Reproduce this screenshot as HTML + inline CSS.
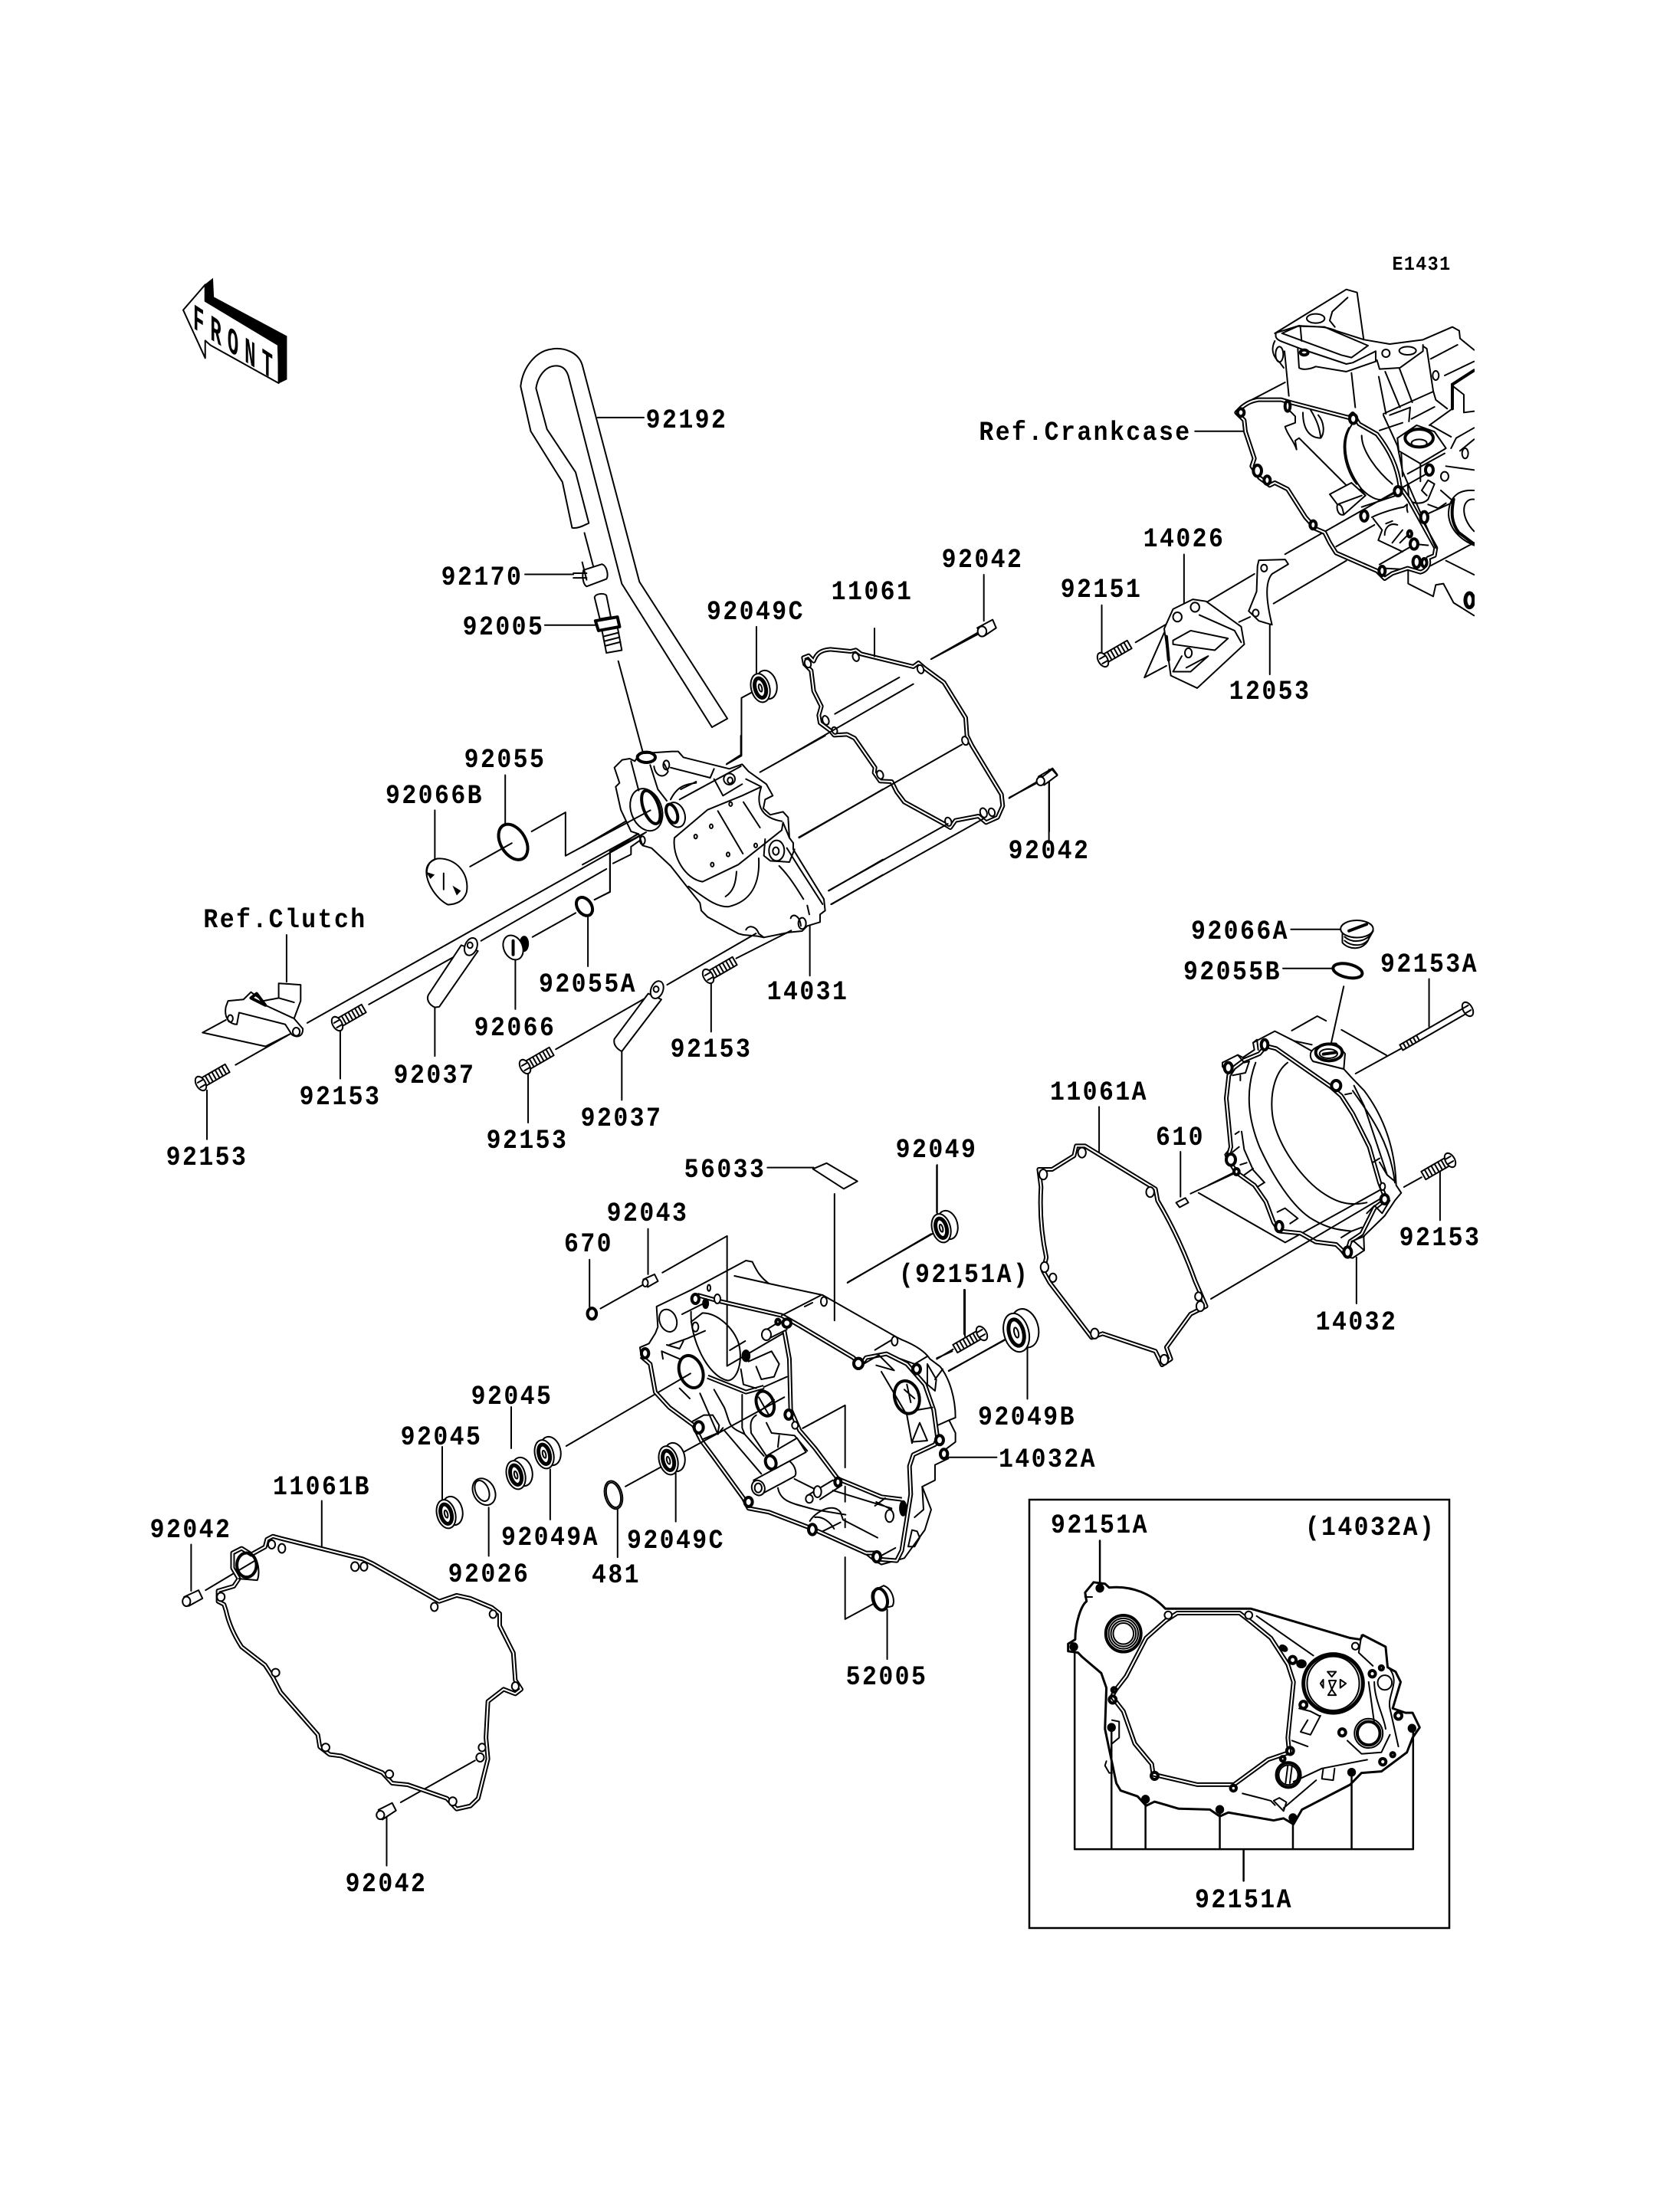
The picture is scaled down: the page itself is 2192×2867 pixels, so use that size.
<!DOCTYPE html>
<html><head><meta charset="utf-8"><title>Engine cover parts diagram</title>
<style>
html,body{margin:0;padding:0;background:#fff}
svg{display:block}
svg *{vector-effect:non-scaling-stroke}
.d{fill:none;stroke:#000;stroke-width:2;stroke-linejoin:round;stroke-linecap:round}
.w{fill:#fff;stroke:#000;stroke-width:2;stroke-linejoin:round}
.t{stroke-width:4}
.k{fill:#000;stroke:#000}
text{font-family:"Liberation Mono",monospace;font-weight:bold;font-size:35px;letter-spacing:2.7px;text-anchor:middle;fill:#000;stroke:none}
text:not(.f){transform-box:fill-box;transform-origin:center;transform:scaleX(.9)}
use.gb{fill:none;stroke:#000;stroke-width:6;stroke-linejoin:round}
use.gw{fill:none;stroke:#fff;stroke-width:2;stroke-linejoin:round}
</style></head><body>
<svg xmlns="http://www.w3.org/2000/svg" width="2192" height="2867" viewBox="0 0 2192 2867">
<defs>
<clipPath id="cc"><rect x="0" y="0" width="972" height="1320"/></clipPath>
<g id="seal" transform="rotate(-15)"><ellipse class="w" cx="6" cy="-2" rx="13" ry="19"/><ellipse class="w" cx="-3" cy="0" rx="12" ry="19"/><ellipse class="d" style="stroke-width:5" cx="-3" cy="0" rx="7" ry="13"/><ellipse class="d" cx="-3" cy="0" rx="2" ry="5"/></g>
<g id="bolt"><path class="w" d="M3,-6H40V6H3Z"/><path class="d" d="M10,-6V6M15,-6V6M20,-6V6M25,-6V6M30,-6V6M35,-6V6"/><ellipse class="w" cx="0" cy="0" rx="6" ry="10"/><path class="d" d="M-3,-3H5M-3,4H5"/></g>
<path id="g11061" d="M125,128C135,100 150,85 190,82L270,90 290,85 310,100 515,150 535,135 558,155 635,212 720,350 725,420 745,460 860,650 865,695 845,740 800,760 770,735 680,752 660,780 635,765 480,680 450,640 430,600 385,598 362,565 365,545 285,430 255,415 205,418 190,400 150,370 145,340 155,305 125,245 115,165 90,140 85,115 105,107Z"/>
<path id="g11061A" d="M530,775L550,775 710,885 715,915Q765,1010 800,1120L825,1185 790,1205 735,1290 745,1320 725,1335 710,1300 590,1255 565,1265 470,1125 455,1095 462,1060Q445,970 450,880L445,835 475,835 525,800Z"/>
<path id="g11061B" d="M330,275L345,265 365,272 575,340 600,355 770,480 815,460 850,470 905,500 925,520 925,560 960,650 965,740 980,770 965,785 935,770 895,810 890,930 895,1000 870,1130 850,1155 815,1165 790,1130 690,1085 650,1080 625,1045 520,990 490,985 465,960 460,920 365,780 345,730 325,690 265,630Q235,570 225,510L220,490 205,480 205,445 245,430 258,405 242,370 242,320 265,305 290,325 325,300Z"/>
<path id="g14032A" d="M300,690L340,740 380,850 440,920 445,955 600,990 730,990 850,905 925,880 920,830 940,640 920,580 860,490 790,435 750,405 530,405 490,430 420,490 350,620 310,670Z"/>
<path id="gcc" d="M60,470C85,450 100,445 125,440L215,440 250,450 480,510 495,495 520,535 590,575C640,640 670,700 680,780L715,830 820,1020 815,1050 790,1060C800,1090 780,1110 760,1115L710,1100 650,1120 620,1140 590,1110 430,1040 405,1000 385,960 350,945 310,900 240,790 190,765 170,775 130,745 100,700 110,670 75,565 70,520 40,490Z"/>
<path id="gm1" d="M240,150L330,175 570,230 640,270 850,395 880,425 900,395 980,380 1060,420 1130,500 1165,600 1180,710 1170,735 1085,775 1070,820 1075,930 1040,1150 1020,1190 960,1185 940,1160 900,1160 690,1065 520,1000 440,985 420,945 300,780 255,720 225,660 130,590 75,530 55,420 20,390"/>
<path id="gm2" d="M580,290L600,400 605,600 640,680 700,750 790,870 840,890 960,940 1040,950"/>
<path id="gm3" d="M280,470L430,530 500,510"/>
<path id="gc32" d="M70,250L60,340 78,530 65,575 100,630 170,680 215,745 245,825 270,860 350,868 410,902 490,912 530,950 545,900 590,870 640,770 685,735 660,670 620,530 555,400 510,330 470,295 255,145 215,135 190,165 130,190 90,220Z"/>
</defs>

<!-- Zoom 1 region -->
<g transform="translate(200,300) scale(.574,.5102)">
<path class="w" d="M68,205L118,140 118,182 285,295 285,392 130,295 118,283 118,328Z"/>
<path class="k" d="M118,140L135,125 137,172 303,272 303,382 285,392 283,292 118,182Z"/>
<path class="d" d="M1305,1250L1105,900 975,345C965,310 930,300 905,305C870,310 840,350 835,400L858,515 930,645 952,762C965,765 980,755 990,750L960,620 895,510 870,405C875,370 895,345 920,348C935,350 942,365 945,380L1065,905 1270,1272Z"/>
<path class="d" d="M1010,480H1115M980,775L1000,860M845,881H955M890,1011H1005M1057,1103L1115,1345M1371,1015V1140M1362,1182L1337,1197V1345L1303,1367"/>
<path class="w" d="M978,870L1020,855C1032,860 1035,885 1030,893L985,912C975,905 975,880 978,870Z"/>
<path class="d" d="M955,878H985M955,890H985M975,850L985,895"/>
<path class="w" d="M1003,940C1005,930 1025,928 1030,935L1040,990 1015,995Z"/>
<path class="w" d="M1020,1025L1055,1015 1065,1075 1030,1082Z"/>
<path class="d" d="M1023,1040L1058,1030M1025,1052L1060,1042M1027,1064L1062,1054"/>
<path class="w t" d="M1005,1000L1055,990 1060,1015 1012,1025Z"/>
</g>

<text class="f" transform="matrix(.5,.322,0,1,252,428)" style="font-size:48px;letter-spacing:16px;text-anchor:start">FRONT</text>

<!-- Zoom 9: gasket 11061 -->
<g transform="translate(1020,820) scale(.3333)">
<use href="#g11061" class="gb"/>
<use href="#g11061" class="gw"/>
<ellipse class="w" cx="102" cy="137" rx="12" ry="17" transform="rotate(-20 102 137)"/><ellipse class="w" cx="290" cy="112" rx="12" ry="17" transform="rotate(-20 290 112)"/><ellipse class="w" cx="543" cy="160" rx="12" ry="17" transform="rotate(-20 543 160)"/><ellipse class="w" cx="718" cy="440" rx="12" ry="17" transform="rotate(-20 718 440)"/><ellipse class="w" cx="172" cy="360" rx="12" ry="18" transform="rotate(-20 172 360)"/><ellipse class="w" cx="207" cy="400" rx="10" ry="14" transform="rotate(-20 207 400)"/><ellipse class="w" cx="385" cy="573" rx="12" ry="17" transform="rotate(-20 385 573)"/><ellipse class="w" cx="652" cy="757" rx="12" ry="17" transform="rotate(-20 652 757)"/><ellipse class="w" cx="790" cy="722" rx="13" ry="19" transform="rotate(-20 790 722)"/><ellipse class="w" cx="822" cy="720" rx="12" ry="16" transform="rotate(-20 822 720)"/>
<path class="d" d="M363,0V110M585,120L765,18M208,335L460,192M0,515L515,218M67,818L705,455M183,1027L650,765M193,1080L790,745M890,665L1005,597M1047,600V795"/>
<path class="w" d="M1005,580L1060,548 1078,572 1030,610Z"/><ellipse class="w" cx="1015" cy="595" rx="14" ry="17"/>
</g>

<!-- Zoom 8: cover 14031 -->
<g transform="translate(760,960) scale(.3333)">
<path class="d" d="M0,435L255,285M0,505L310,335M120,500L190,465V435L225,410M47,642L108,612V455L230,375M565,110L620,75V0M695,143L950,0M848,400L1176,210M965,607L1176,485M975,660L1176,545"/>
<path class="w" d="M125,125L155,95 185,90 205,100 225,70 350,62 375,62 395,85 575,130 625,112 650,140 720,190 745,235 715,250 708,285 735,310 785,298 805,320 810,400 825,420 825,445 945,640 950,685 930,700 930,730 880,745 860,765 810,770 710,790 685,785 630,780 610,775 490,710 465,685 460,655 400,580 345,510 270,440 235,430 220,385 190,375 150,290 130,200 145,185Z"/>
<path class="d" d="M360,400L490,290 625,235 700,200M360,400C350,470 400,560 470,572L610,505 780,370M530,295L628,462M630,260L695,360M690,480C695,580 660,650 570,670C520,670 480,635 415,590M603,532C600,580 590,610 560,630M345,250C370,200 400,190 445,185M385,210L445,180M190,100L220,215M265,115L295,210 330,255M280,120C285,160 320,170 335,140L320,110M345,125L500,165M515,170L550,235 625,190M515,130L500,165M640,170L700,200M700,200C680,260 690,320 780,335M715,405L710,470 735,490 810,495 830,445M810,400L785,340 780,370M770,510C810,550 840,600 865,640M880,665L888,700M815,715C820,695 850,700 855,745M640,760C650,740 680,745 690,775L710,790M800,440L850,520 940,660M380,250L620,120"/>
<ellipse class="d" cx="250" cy="290" rx="60" ry="85" transform="rotate(-20 250 290)"/><ellipse class="d t" cx="268" cy="280" rx="30" ry="68" transform="rotate(-20 268 280)"/><ellipse class="d" cx="365" cy="310" rx="35" ry="50" transform="rotate(-20 365 310)"/><ellipse class="d t" cx="350" cy="305" rx="20" ry="38" transform="rotate(-20 350 305)"/><ellipse class="d t" cx="250" cy="85" rx="35" ry="20"/><ellipse class="d" cx="328" cy="115" rx="12" ry="18"/><ellipse class="d" cx="575" cy="170" rx="22" ry="22"/><ellipse class="d" cx="578" cy="175" rx="10" ry="12"/><ellipse class="d" cx="760" cy="450" rx="30" ry="40"/><ellipse class="d" cx="757" cy="452" rx="12" ry="15"/><ellipse class="d" cx="443" cy="395" rx="6" ry="8"/><ellipse class="d" cx="504" cy="355" rx="6" ry="8"/><ellipse class="d" cx="570" cy="465" rx="6" ry="8"/><ellipse class="d" cx="508" cy="505" rx="6" ry="8"/><ellipse class="d" cx="580" cy="268" rx="6" ry="8"/><ellipse class="d" cx="678" cy="430" rx="6" ry="8"/><ellipse class="d" cx="860" cy="735" rx="15" ry="22"/><ellipse class="d" cx="235" cy="410" rx="10" ry="16"/>
<path class="d" d="M890,745V940"/>
</g>

<!-- Zoom 3 region -->
<g transform="translate(200,1000) scale(.574,.3827)">
<path class="d" d="M187,1018L312,912M350,875L1115,230M490,812L695,640M745,595L1030,350M1003,455L1038,428V290L1120,225M720,342L815,262M860,222L937,157V305L1130,150M862,582L960,500M915,965L1125,785M1168,745L1370,570M1325,655L1450,560M122,1105V1272M425,900V1065M640,822V988M852,1050V1215M1268,740V905M1065,972V1138M640,150V315M800,30V195M988,510V682M823,660V828M303,575V735M165,865L112,908 255,955 312,912"/>
<path class="w" d="M700,610L625,780C620,800 630,815 640,822L650,820 738,630Z"/><ellipse class="w" cx="722" cy="615" rx="14" ry="30" transform="rotate(10 722 615)"/><ellipse class="d" cx="720" cy="610" rx="6" ry="10"/>
<path class="w" d="M1125,775L1048,930C1045,950 1055,965 1065,972L1155,795Z"/><ellipse class="w" cx="1145" cy="762" rx="14" ry="30" transform="rotate(10 1145 762)"/><ellipse class="d" cx="1143" cy="760" rx="6" ry="10"/>
<path class="w" d="M645,315C690,310 720,370 712,430C705,460 690,470 670,472C640,450 615,385 622,345C625,330 635,320 645,315Z"/>
<path class="d" d="M645,315C625,320 620,350 622,375M660,365V420"/><path class="k" d="M622,362L638,370 630,382ZM682,410L698,425 690,438Z"/>
<ellipse class="d t" cx="818" cy="258" rx="30" ry="62" transform="rotate(-15 818 258)"/><ellipse class="d t" cx="980" cy="478" rx="17" ry="32" transform="rotate(-15 980 478)"/>
<ellipse class="k" cx="843" cy="605" rx="10" ry="26"/><ellipse class="w" cx="818" cy="618" rx="22" ry="42" transform="rotate(-10 818 618)"/><path class="d t" d="M818,595V642"/>
<path class="w" d="M285,740L335,745V800L320,860 340,895C340,925 325,925 315,915L300,880 195,840 190,880C175,880 160,860 165,820L170,800 205,795 222,770 250,800 285,790Z"/>
<ellipse class="d" cx="325" cy="905" rx="8" ry="14"/><ellipse class="d" cx="175" cy="860" rx="6" ry="12"/><path class="d t" d="M222,790L235,775 255,815Z"/><path class="d" d="M255,815L320,860M285,790L320,805"/>
</g>

<!-- Crankcase -->
<g transform="translate(1600,375) scale(.3333)">
<g clip-path="url(#cc)">
<path class="d" d="M190,180L470,8 512,20 538,205M195,178C190,195 195,205 225,215L290,240 470,300 495,295 585,250M195,178L285,150C330,155 390,150 430,170L540,205 640,222 770,205 885,155 912,170 915,200 970,245M218,180L280,152 385,155 430,175 555,228 490,275 450,265ZM290,155L295,210M228,250L245,425M280,240L285,315C300,325 330,320 350,310L470,330 585,290V250M590,285L600,320 680,315 770,250V225M770,230L785,240 810,405 820,440 865,475M490,335L505,470M597,350L625,495M622,330L680,470M678,318L728,450M615,495L810,408M640,500L720,470 715,525M725,515L815,468M800,280L905,225M855,345L970,290M885,475L795,540M600,560L690,530M615,500L670,620M415,95L405,130 425,155M415,95L475,40M190,210C175,240 180,270 210,295L225,315M230,372L100,440"/>
<path class="d t" d="M885,380L970,325M885,380V475"/><path class="d" d="M885,385L930,420V490L970,485"/>
<ellipse class="d" cx="350" cy="122" rx="35" ry="18"/><ellipse class="d" cx="710" cy="248" rx="33" ry="16"/><ellipse class="d" cx="625" cy="258" rx="15" ry="15"/><ellipse class="d t" cx="305" cy="255" rx="15" ry="10"/><ellipse class="d" cx="208" cy="262" rx="15" ry="30"/><ellipse class="d" cx="820" cy="345" rx="12" ry="18"/>
<path class="d" d="M490,540C450,600 460,700 530,790C560,820 590,835 610,830L660,805M480,550C440,620 470,720 510,770M530,580C530,640 590,720 650,770M300,490C300,560 330,590 370,590C385,570 385,530 360,500M330,480C355,520 365,550 370,590M240,475L270,505V530L230,545C240,580 265,600 275,635L270,600 285,590 470,775M290,595L465,770M530,860L680,810M570,900C590,890 640,870 695,860C720,840 700,850 710,880M575,905L610,950 595,990 690,1035M620,970C620,940 640,920 670,930M625,925L650,915M650,1000L690,950M680,1000L710,970M430,1015L580,930M230,1045L520,880M600,1085L740,1005 790,1010M800,1090L970,1000M860,1070L970,1125M770,895L880,845M620,1100L710,1105M185,1238L470,1070M520,880L810,715M970,795C900,790 870,830 870,890C875,950 920,990 970,1010M970,830C920,825 915,900 970,955M800,540L880,585M880,630L900,590 970,550M915,640L970,595M860,700L970,715M840,795L880,830M790,850L830,865 860,845M712,1110V1160L810,1210 820,1165 850,1160 890,1235 970,1285"/>
<path class="d t" d="M890,830C880,880 880,920 910,960L970,1005"/>
<path class="w" d="M405,810L490,765 545,815 460,890C440,895 430,870 435,850Z"/><path class="d" d="M460,890C455,860 450,850 435,850L530,815M525,790L545,815"/>
<path class="w" d="M670,590L745,540 815,565 860,630 760,690 675,640Z"/><ellipse class="w t" cx="755" cy="590" rx="55" ry="35"/><ellipse class="d" cx="755" cy="610" rx="30" ry="15"/>
<path class="d" d="M685,650L690,740M760,690V760M855,650L710,730M710,770L715,830C730,850 770,850 790,830L815,770 790,755 765,795 785,815"/>
<use href="#gcc" class="gb"/><use href="#gcc" class="gw"/>
<path class="d" d="M670,620L690,720 820,1020"/>
<ellipse class="w t" cx="57" cy="490" rx="13" ry="15"/><ellipse class="w t" cx="240" cy="465" rx="10" ry="20"/><ellipse class="w t" cx="497" cy="515" rx="14" ry="18"/><ellipse class="w t" cx="122" cy="718" rx="16" ry="22"/><ellipse class="w t" cx="160" cy="755" rx="12" ry="16"/><ellipse class="w t" cx="340" cy="930" rx="12" ry="16"/><ellipse class="w t" cx="672" cy="798" rx="14" ry="18"/><ellipse class="w t" cx="540" cy="895" rx="14" ry="20"/><ellipse class="w t" cx="610" cy="1110" rx="12" ry="18"/><ellipse class="w t" cx="745" cy="1075" rx="14" ry="22"/><ellipse class="w t" cx="775" cy="1078" rx="10" ry="16"/><ellipse class="w t" cx="775" cy="900" rx="14" ry="22"/><ellipse class="w t" cx="795" cy="715" rx="15" ry="20"/><ellipse class="w t" cx="735" cy="1005" rx="15" ry="20"/><ellipse class="w t" cx="718" cy="965" rx="8" ry="12"/><ellipse class="w" cx="935" cy="650" rx="12" ry="20"/><ellipse class="w" cx="855" cy="740" rx="15" ry="18"/><ellipse class="d" style="stroke-width:5" cx="952" cy="1225" rx="16" ry="28"/>
</g>
</g>

<!-- Zoom 2: thermo cover, leaders -->
<g transform="translate(1100,300) scale(.574,.5102)">
<path class="d" d="M800,515H910M588,960V1080M775,830V955M970,1010V1137M665,1055L740,1005M815,960L935,880M900,1003L925,990M730,1030L685,1145 735,1115M320,882V1000M200,1098L305,1035M468,1380V1568M378,1452L440,1415"/>
<path class="w" d="M750,970L795,945 825,950 905,1015 912,1060 805,1172 745,1140 730,1020Z"/>
<path class="d" d="M810,985L890,1025 905,1055M750,1050L790,1025 875,1045 845,1075 750,1060ZM750,1130L770,1090M780,1120L830,1090 790,1130 750,1130"/><path class="d t" d="M735,1040L740,1100"/>
<ellipse class="d" cx="800" cy="965" rx="10" ry="12"/><ellipse class="d" cx="760" cy="990" rx="10" ry="12"/><ellipse class="d" cx="785" cy="1082" rx="8" ry="12"/>
<path class="w" d="M945,845L1005,843 1012,855 975,880C960,900 960,940 975,1010L945,1000 922,975 940,925 942,860Z"/><ellipse class="d" cx="957" cy="865" rx="7" ry="9"/><ellipse class="d" cx="938" cy="980" rx="7" ry="9"/>
<path class="w" d="M305,1018L340,997 348,1018 322,1038Z"/><ellipse class="w" cx="316" cy="1027" rx="10" ry="13"/>
<path class="w" d="M440,1410L475,1380 487,1395 457,1420Z"/><ellipse class="w" cx="449" cy="1410" rx="9" ry="11"/>
</g>
<use href="#bolt" transform="translate(1439,861) rotate(-30)"/>

<!-- Zoom 4 region: leaders, gasket 11061A -->
<g transform="translate(1100,1100) scale(.574,.5102)">
<path class="d" d="M1018,221H1130M1000,321H1112M1138,367L1105,535M1332,348V470M1165,590L1270,525M1020,480L1078,443 1098,455M1133,478L1235,543M767,790V905M790,897L890,845M808,895L1005,1022 1225,885M1275,880L1315,855M1357,835V965M1167,1060V1178M582,675V790M213,825V945M10,1125L200,1000M419,1285V1422M240,1350L370,1270M277,1143V1262M213,1320L250,1295"/>
<path class="w" d="M1135,225V255C1150,275 1185,275 1195,245L1205,225Z"/><ellipse class="w" cx="1168" cy="220" rx="37" ry="22"/><path class="d t" d="M1150,225L1190,208"/><path class="d" d="M1140,240C1155,255 1180,255 1197,238M1140,250C1155,265 1180,265 1192,250"/>
<ellipse class="d t" cx="1147" cy="327" rx="34" ry="17" transform="rotate(15 1147 327)"/>
<path class="w" d="M757,920L778,908 785,920 765,932Z"/>
<use href="#g11061A" class="gb"/><use href="#g11061A" class="gw"/>
<ellipse class="w" cx="543" cy="792" rx="9" ry="13"/><ellipse class="w" cx="698" cy="893" rx="9" ry="13"/><ellipse class="w" cx="455" cy="848" rx="9" ry="13"/><ellipse class="w" cx="458" cy="1085" rx="9" ry="13"/><ellipse class="w" cx="477" cy="1112" rx="8" ry="11"/><ellipse class="w" cx="572" cy="1255" rx="9" ry="13"/><ellipse class="w" cx="730" cy="1322" rx="9" ry="13"/><ellipse class="w" cx="808" cy="1160" rx="8" ry="11"/><ellipse class="w" cx="812" cy="1185" rx="9" ry="13"/>
</g>

<!-- Cover 14032 -->
<g transform="translate(1580,1320) scale(.3333)">
<path class="d" d="M45,200L105,170 125,180 170,150 165,122 210,98 250,77 325,115 395,155C390,170 390,185 400,195L520,225 552,260 600,310C660,390 720,510 725,680L745,710 720,740 680,800 598,880 600,935 555,965 525,960 490,915 410,905 350,870 270,860 240,825 210,740 170,680 100,630 60,575 55,560 80,530 55,330 70,250 45,215Z"/>
<use href="#gc32" class="gb"/><use href="#gc32" class="gw"/>
<path class="d" d="M175,200C130,320 150,430 190,530C240,640 320,770 400,815C460,850 500,855 550,860M300,200C260,230 230,300 240,400C250,500 340,640 430,705C480,740 530,765 610,748M555,310C610,390 700,500 720,670M560,290L600,370 690,640M550,320L525,325M325,115L395,130M165,122L180,110 185,150M105,170L130,200 150,195 135,240 85,250M115,250V270M95,480L110,470M120,470L130,540 165,620 210,670M85,550L110,530M115,600L140,592M130,640L165,615M185,685L205,672M260,785L290,770 340,810 310,830M635,590L660,575M660,590L690,640 720,665M640,760L670,790 700,740M610,790L640,760M510,885L550,860 590,845M550,900L600,880M560,900L600,935M0,1125L660,735M-10,680L90,630"/>
<path class="w" d="M390,165C395,140 450,120 490,125L525,165 520,225 400,195C390,185 388,175 390,165Z"/>
<ellipse class="w t" cx="462" cy="160" rx="52" ry="33"/><ellipse class="d" cx="460" cy="165" rx="35" ry="18"/><path class="d t" d="M440,167L490,160"/>
<ellipse class="w t" cx="210" cy="130" rx="13" ry="20"/><ellipse class="w t" cx="68" cy="220" rx="15" ry="20"/><ellipse class="w t" cx="490" cy="290" rx="18" ry="20"/><ellipse class="w t" cx="78" cy="580" rx="18" ry="22"/><ellipse class="w t" cx="100" cy="627" rx="10" ry="12"/><ellipse class="w t" cx="267" cy="842" rx="14" ry="20"/><ellipse class="w t" cx="680" cy="735" rx="15" ry="18"/><ellipse class="w" cx="672" cy="685" rx="10" ry="14"/><ellipse class="w t" cx="535" cy="942" rx="15" ry="20"/>
</g>
<use href="#bolt" transform="translate(1281,1740) rotate(150)"/>
<use href="#bolt" transform="translate(1892,1514) rotate(150)"/>
<g transform="translate(1915,1317) rotate(150)"><path class="w" d="M3,-4H100V4H3Z"/><path class="d" d="M75,-4V4M80,-4V4M85,-4V4M90,-4V4M95,-4V4"/><ellipse class="w" cx="0" cy="0" rx="6" ry="10"/><path class="d" d="M-3,-3H5M-3,4H5"/></g>

<!-- Zoom 5: leaders around main cover -->
<g transform="translate(700,1500) scale(.4464)">
<path class="d" d="M675,53H810M871,130V500M326,232V365M368,360L557,253V633L725,535M565,587L610,560M155,322V460M187,465L312,395M1171,45V190M910,388L1160,245M1170,610L1215,590M1205,648L1370,555M1205,900H1345M87,867L450,655M260,985L370,925M407,945V1088M237,1050V1192M40,935V1082M1025,1345V1490M985,1328L902,1373V1192M902,1080V1105M902,985V1030M778,815L902,748V930M1250,410V540"/>
<path class="w" d="M808,57L848,40 938,93 898,115Z"/>
<path class="w" d="M312,380L345,365 355,385 325,402Z"/><ellipse class="w" cx="318" cy="390" rx="8" ry="11"/>
<ellipse class="d t" cx="162" cy="480" rx="13" ry="16"/>
<ellipse class="d" cx="225" cy="1010" rx="25" ry="42" transform="rotate(-15 225 1010)"/><ellipse class="d" cx="225" cy="1010" rx="20" ry="37" transform="rotate(-15 225 1010)"/>
<path class="w" d="M985,1290L1015,1275C1040,1285 1050,1320 1040,1335L1000,1345C980,1335 975,1300 985,1290Z"/><ellipse class="w t" cx="1005" cy="1315" rx="20" ry="32" transform="rotate(-15 1005 1315)"/>
</g>

<!-- Main cover 14032A -->
<g transform="translate(830,1640) scale(.3333)">
<path class="d" d="M15,355L50,340 75,300 85,275 80,195 215,130 430,15 455,20C470,50 480,75 520,105L730,150 1020,315 1040,325C1090,345 1130,370 1150,400L1190,430C1230,480 1250,560 1250,630L1225,640 1250,690V725L1210,755 1222,790 1170,815V875L1120,900 1155,990 1130,1070 1050,1180 960,1205 925,1185 900,1165M15,355L20,390"/>
<use href="#gm1" class="gb"/><use href="#gm1" class="gw"/>
<use href="#gm2" class="gb"/><use href="#gm2" class="gw"/>
<use href="#gm3" class="gb"/><use href="#gm3" class="gw"/>
<path class="d" d="M185,765L580,550M215,215C210,320 280,470 360,485C400,480 420,400 400,335C380,280 320,220 260,220L215,255M180,225L270,180M130,345L200,320 270,290M120,345L170,360 185,330M100,370L170,400M105,400L100,370M495,295L560,255M510,325L590,285M440,410L530,370 560,420 540,470 490,480 470,430M410,440L420,500 470,515M500,510L590,470M250,535L320,695 340,670M305,520L345,590C365,640 360,660 395,680L425,695M415,540V670L425,695 500,780M470,620C440,640 450,670 450,690L510,780M510,650L530,690 620,700 670,760M560,700L555,745M345,680L490,850M555,905C565,960 610,965 700,990L820,1010M620,870L700,910M670,935L770,875 805,895 720,950M770,915L1000,985M935,975L975,945M1120,900L1125,990 1090,1020M1080,1070L1100,1075 1110,1100 1090,1135H1065ZM680,1035C700,1000 770,960 800,1000L810,1030 945,1100M700,1020C730,1015 760,1040 775,1065M730,1075L800,1040M220,645L265,620H300L325,660 320,690 260,715M385,75L520,105M570,230L725,150M660,195L690,180M935,365L1010,320M890,420L950,385 1010,445 940,425M960,450L1060,620 1080,730M1035,400L1090,420 1140,390M1140,420L1175,480 1170,525 1140,500ZM1170,480L1200,440M1110,650L1080,725 1140,720ZM1100,600L1160,590M1180,660L1225,640M1050,520L1090,555M1060,500L1075,570M170,515L210,555M940,960L1000,990M960,1170L1015,1140"/>
<path class="w" d="M460,875L600,800C625,820 630,850 620,860L480,935Z"/>
<path class="w" d="M510,780L630,710 665,765 545,830Z"/>
<ellipse class="w" cx="478" cy="905" rx="25" ry="30" transform="rotate(-20 478 905)"/><ellipse class="d" cx="478" cy="905" rx="14" ry="18"/>
<ellipse class="w t" cx="527" cy="805" rx="20" ry="27" transform="rotate(-20 527 805)"/>
<ellipse class="d" cx="125" cy="250" rx="33" ry="45" transform="rotate(-20 125 250)"/><ellipse class="d t" cx="215" cy="450" rx="45" ry="65" transform="rotate(-20 215 450)"/><ellipse class="d t" cx="505" cy="575" rx="33" ry="50" transform="rotate(-20 505 575)"/><path class="d" d="M480,550L520,620M490,600L540,560"/><ellipse class="d t" cx="1060" cy="550" rx="48" ry="65" transform="rotate(-15 1060 550)"/>
<ellipse class="w" cx="678" cy="948" rx="14" ry="16"/><ellipse class="w" cx="710" cy="920" rx="15" ry="22"/><ellipse class="w t" cx="790" cy="882" rx="12" ry="16"/>
<ellipse class="w t" cx="35" cy="378" rx="14" ry="18"/><ellipse class="w t" cx="232" cy="165" rx="14" ry="18"/><ellipse class="k" cx="272" cy="183" rx="12" ry="20"/><ellipse class="w" cx="318" cy="165" rx="12" ry="18"/><ellipse class="w" cx="285" cy="122" rx="6" ry="12"/><ellipse class="w" cx="232" cy="275" rx="12" ry="18"/><ellipse class="k" cx="430" cy="388" rx="16" ry="23"/><ellipse class="w t" cx="590" cy="260" rx="16" ry="16"/><ellipse class="w" cx="510" cy="305" rx="18" ry="22"/><ellipse class="w t" cx="555" cy="255" rx="8" ry="10"/>
<ellipse class="w" cx="992" cy="1015" rx="16" ry="24"/><ellipse class="k" cx="1045" cy="985" rx="14" ry="30"/><ellipse class="w t" cx="690" cy="1068" rx="15" ry="20"/><ellipse class="w t" cx="440" cy="960" rx="15" ry="18"/><ellipse class="w t" cx="245" cy="668" rx="18" ry="22"/><ellipse class="w" cx="735" cy="175" rx="12" ry="18"/><ellipse class="w" cx="1012" cy="330" rx="12" ry="18"/><ellipse class="w t" cx="870" cy="418" rx="18" ry="20"/><ellipse class="w t" cx="1098" cy="440" rx="15" ry="18"/><ellipse class="w t" cx="1188" cy="718" rx="15" ry="18"/><ellipse class="w t" cx="1205" cy="772" rx="14" ry="18"/><ellipse class="w t" cx="597" cy="618" rx="14" ry="18"/><ellipse class="w" cx="622" cy="660" rx="12" ry="14"/><ellipse class="w t" cx="942" cy="1175" rx="15" ry="20"/>
</g>
<use href="#seal" transform="translate(995,897)"/>
<use href="#seal" transform="translate(1231,1602)"/>
<use href="#seal" transform="translate(875,1905)"/>
<use href="#seal" transform="translate(713,1897)"/>
<use href="#seal" transform="translate(585,1975)"/>
<use href="#seal" transform="translate(676,1924)"/>
<use href="#seal" transform="translate(1330,1738) scale(1.35)"/>
<path class="d" d="M577,1888V1957M667,1836V1890"/>

<!-- Zoom 6: gasket 11061B -->
<g transform="translate(180,1900) scale(.5102,.3954)">
<path class="d" d="M470,148V305M136,292V445M173,443L300,345M636,1190V1352M672,1143L862,1005M897,170V330"/>
<use href="#g11061B" class="gb"/><use href="#g11061B" class="gw"/>
<path class="d" d="M290,325C310,340 312,390 305,410L258,405"/>
<ellipse class="d t" cx="278" cy="360" rx="25" ry="40"/>
<ellipse class="w" cx="342" cy="292" rx="9" ry="14"/><ellipse class="w" cx="368" cy="305" rx="9" ry="15"/><ellipse class="w" cx="555" cy="365" rx="10" ry="15"/><ellipse class="w" cx="578" cy="365" rx="9" ry="14"/><ellipse class="w" cx="758" cy="498" rx="9" ry="14"/><ellipse class="w" cx="908" cy="522" rx="9" ry="13"/><ellipse class="w" cx="965" cy="760" rx="9" ry="14"/><ellipse class="w" cx="352" cy="715" rx="10" ry="13"/><ellipse class="w" cx="480" cy="962" rx="10" ry="13"/><ellipse class="w" cx="643" cy="1050" rx="10" ry="13"/><ellipse class="w" cx="805" cy="1140" rx="10" ry="14"/><ellipse class="w" cx="880" cy="962" rx="9" ry="13"/><ellipse class="w" cx="875" cy="995" rx="10" ry="14"/><ellipse class="w" cx="212" cy="465" rx="10" ry="14"/>
<path class="w" d="M118,465L155,443 165,470 130,495Z"/><ellipse class="w" cx="124" cy="480" rx="10" ry="16"/>
<path class="w" d="M615,1168L650,1145 660,1170 625,1200Z"/><ellipse class="w" cx="620" cy="1185" rx="10" ry="14"/>
<ellipse class="w" cx="885" cy="118" rx="28" ry="45" transform="rotate(-15 885 118)"/><ellipse class="w" cx="880" cy="115" rx="17" ry="35" transform="rotate(-15 880 115)"/>
</g>

<!-- Bolts -->
<use href="#bolt" transform="translate(262,1414) rotate(-30)"/>
<use href="#bolt" transform="translate(440,1336) rotate(-30)"/>
<use href="#bolt" transform="translate(685,1392) rotate(-30)"/>
<use href="#bolt" transform="translate(924,1274) rotate(-30)"/>

<!-- Zoom 7: inset -->
<rect x="1343" y="1957" width="548" height="559" fill="none" stroke="#000" stroke-width="2.5"/>
<g transform="translate(1340,1950) scale(.3699,.3827)">
<path class="d" style="stroke-width:3" d="M205,335L235,300 275,305 290,318C370,310 440,340 488,390L790,390 1140,490 1175,495 1185,480 1265,520 1272,590 1300,605 1318,640 1290,730 1335,745 1360,745 1385,795 1360,830 1340,880 1250,945 1180,950 1140,990 970,1075 940,1125 905,1105 870,1112 710,1085 680,1098 645,1075 535,1072 450,1048 420,1062 390,1030 330,1010 315,985 275,800 280,660 262,610 195,555 180,540 145,535V510L170,495C170,440 190,380 210,365Z"/>
<use href="#g14032A" class="gb"/><use href="#g14032A" class="gw"/>
<path class="d" d="M810,415L1010,550M1205,640L1225,780M1275,590C1320,640 1270,680 1280,730L1310,860M1225,640C1225,700 1260,760 1265,800M1130,840L1180,885 1250,880 1280,820M940,980L1040,935 1200,905M990,770L965,810 1000,820 1035,755M935,840L990,860M1045,935L1040,970 1080,975 1085,935M870,1045L905,1080 915,1050 890,1035ZM905,1070L1020,975M280,910L275,925 290,950H300M300,770L325,775V830L300,850M230,350H205V335M1180,480L1170,540 1220,585M760,1020L860,1045 875,1060M960,730L1000,740 1030,755"/>
<circle class="d" cx="340" cy="475" r="62" style="stroke-width:4"/><circle class="d" cx="340" cy="475" r="52"/><circle class="d" cx="340" cy="475" r="44"/><circle class="d" cx="340" cy="475" r="36"/>
<ellipse class="d" cx="1080" cy="645" rx="105" ry="100" style="stroke-width:5"/><ellipse class="d" cx="1080" cy="645" rx="92" ry="92"/>
<path class="d" d="M1060,605H1090L1075,622ZM1065,635H1090L1075,665 1090,685H1062L1075,665ZM1045,632L1035,645 1045,660ZM1105,632L1125,645 1105,660Z"/>
<ellipse class="d t" cx="922" cy="957" rx="42" ry="42"/><ellipse class="d" cx="922" cy="957" rx="34" ry="34"/><path class="d" d="M920,925L912,985M935,925L927,985"/>
<ellipse class="k" cx="905" cy="525" rx="15" ry="10" transform="rotate(30 905 525)"/><ellipse class="k" cx="968" cy="578" rx="17" ry="14"/>
<circle class="d" cx="1205" cy="815" r="50"/><circle class="d" cx="1205" cy="815" r="40" style="stroke-width:4"/><ellipse class="d" cx="1262" cy="642" rx="25" ry="25"/>
<circle class="w" cx="498" cy="412" r="13"/><circle class="w" cx="782" cy="412" r="13"/><circle class="d t" cx="937" cy="565" r="12"/><circle class="d t" cx="975" cy="718" r="12"/><circle class="d t" cx="928" cy="875" r="12"/><circle class="d t" cx="450" cy="960" r="12"/><circle class="d t" cx="728" cy="1002" r="10"/><circle class="d t" cx="307" cy="667" r="8"/><circle class="d t" cx="302" cy="700" r="12"/><circle class="d t" cx="1218" cy="612" r="11"/><circle class="d t" cx="1310" cy="755" r="12"/><circle class="d t" cx="1112" cy="812" r="12"/><circle class="d t" cx="1255" cy="912" r="11"/><circle class="d t" cx="1290" cy="888" r="7"/><circle class="d t" cx="1250" cy="592" r="7"/><circle class="d" cx="1158" cy="518" r="12"/><circle class="d t" cx="902" cy="902" r="8"/>
<path class="d" style="stroke-width:2.5" d="M257,158V300M168,535V1210H1362V810M298,800V1210M418,1050V1210M680,1085V1210M938,1110V1210M1145,955V1210M764,1210V1318"/>
<circle class="k" cx="257" cy="320" r="14"/><circle class="k" cx="165" cy="520" r="14"/><circle class="k" cx="298" cy="795" r="14"/><circle class="k" cx="418" cy="1040" r="14"/><circle class="k" cx="680" cy="1075" r="14"/><circle class="k" cx="938" cy="1103" r="14"/><circle class="k" cx="1145" cy="948" r="14"/><circle class="k" cx="1358" cy="798" r="14"/>
</g>

<!-- Labels -->
<text x="1855" y="352" style="font-size:26px;letter-spacing:1.5px">E1431</text>
<text x="896" y="558">92192</text><text x="629" y="763">92170</text><text x="657" y="828">92005</text><text x="986" y="808">92049C</text><text x="659" y="1001">92055</text><text x="567" y="1048">92066B</text>
<text x="1416" y="574">Ref.Crankcase</text><text x="1545" y="713">14026</text><text x="1437" y="779">92151</text><text x="1657" y="912">12053</text><text x="1282" y="740">92042</text><text x="1138" y="782">11061</text><text x="1369" y="1120">92042</text>
<text x="372" y="1210">Ref.Clutch</text><text x="767" y="1294">92055A</text><text x="672" y="1351">92066</text><text x="567" y="1413">92037</text><text x="270" y="1520">92153</text><text x="444" y="1441">92153</text><text x="688" y="1498">92153</text><text x="811" y="1469">92037</text><text x="928" y="1379">92153</text><text x="1054" y="1304">14031</text>
<text x="946" y="1536">56033</text><text x="845" y="1593">92043</text>
<text x="1618" y="1225">92066A</text><text x="1608" y="1278">92055B</text><text x="1865" y="1268">92153A</text><text x="1434" y="1435">11061A</text><text x="1540" y="1494">610</text><text x="1222" y="1510">92049</text><text x="1258" y="1673">(92151A)</text><text x="1879" y="1625">92153</text><text x="1770" y="1735">14032</text><text x="1340" y="1859">92049B</text>
<text x="768" y="1633">670</text><text x="1367" y="1914">14032A</text><text x="882" y="2020">92049C</text><text x="804" y="2065">481</text><text x="1157" y="2198">52005</text><text x="718" y="2016">92049A</text>
<text x="420" y="1950">11061B</text><text x="249" y="2006">92042</text><text x="638" y="2064">92026</text><text x="504" y="2468">92042</text><text x="576" y="1885">92045</text><text x="668" y="1832">92045</text>
<text x="1435" y="2000">92151A</text><text x="1788" y="2003">(14032A)</text><text x="1623" y="2489">92151A</text>
</svg>
</body></html>
